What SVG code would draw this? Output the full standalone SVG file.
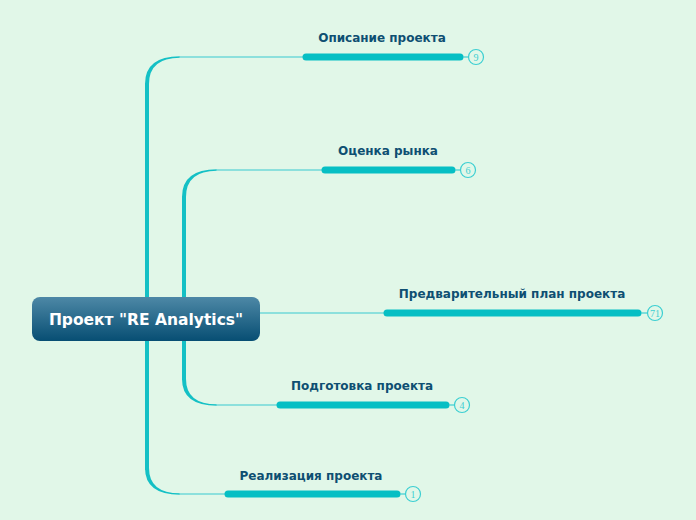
<svg xmlns="http://www.w3.org/2000/svg" width="696" height="520" viewBox="0 0 696 520">
<defs>
<linearGradient id="rootGrad" x1="0" y1="0" x2="0" y2="1">
<stop offset="0" stop-color="#4d88a6"/>
<stop offset="1" stop-color="#074e73"/>
</linearGradient>
<style>
.trunk{fill:#14c0c5;stroke:none}
.thin{fill:none;stroke:#6fd9d9;stroke-width:1.3}
.bar{stroke:#06bfc4;stroke-width:7;stroke-linecap:round}
.badge{fill:#e1f7e8;stroke:#3ccfd2;stroke-width:1.2}
.badge-t{font-family:"Liberation Serif",serif;font-size:10px;fill:#3ccfd2;text-anchor:middle}
.lbl{font-family:"DejaVu Sans",Verdana,sans-serif;font-weight:bold;font-size:12px;fill:#0e4f72;text-anchor:middle}
.root-t{font-family:"DejaVu Sans",Verdana,sans-serif;font-weight:bold;font-size:15.5px;fill:#ffffff;text-anchor:middle}
</style>
</defs>
<rect width="696" height="520" fill="#e1f7e8"/>
<g id="connectors">
<path class="trunk" d="M145,470 L145,84 Q145,56.3 180,56.3 L180,57.7 Q149,57.7 149,84 L149,470 Z"/>
<path class="trunk" d="M145,468 Q145,494.7 180,494.7 L180,493.3 Q149,493.3 149,468 Z"/>
<path class="trunk" d="M182,380 L182,197 Q182,169.3 217,169.3 L217,170.7 Q186,170.7 186,197 L186,380 Z"/>
<path class="trunk" d="M182,379 Q182,405.7 217,405.7 L217,404.3 Q186,404.3 186,379 Z"/>
<path class="thin" d="M179,57 H303"/>
<path class="thin" d="M216,170 H322"/>
<path class="thin" d="M260,313 H384"/>
<path class="thin" d="M216,405 H277"/>
<path class="thin" d="M179,494 H225"/>
</g>
<g id="root">
<rect x="32" y="297" width="228" height="44" rx="8" fill="url(#rootGrad)"/>
<text class="root-t" x="146" y="325">Проект "RE Analytics"</text>
</g>
<g id="node-opisanie">
<line class="bar" x1="306" y1="57" x2="460" y2="57"/>
<line x1="463" y1="57" x2="468" y2="57" stroke="#3ccfd2" stroke-width="1.2"/>
<circle class="badge" cx="476" cy="57" r="7.5"/>
<text class="badge-t" x="476" y="60.5">9</text>
<text class="lbl" x="382" y="42">Описание проекта</text>
</g>
<g id="node-ocenka">
<line class="bar" x1="325" y1="170" x2="452" y2="170"/>
<line x1="455" y1="170" x2="460" y2="170" stroke="#3ccfd2" stroke-width="1.2"/>
<circle class="badge" cx="468" cy="170" r="7.5"/>
<text class="badge-t" x="468" y="173.5">6</text>
<text class="lbl" x="388" y="155">Оценка рынка</text>
</g>
<g id="node-plan">
<line class="bar" x1="387" y1="313" x2="638" y2="313"/>
<line x1="641" y1="313" x2="647" y2="313" stroke="#3ccfd2" stroke-width="1.2"/>
<circle class="badge" cx="655" cy="313" r="7.5"/>
<text class="badge-t" x="655" y="316.5">71</text>
<text class="lbl" x="512" y="298">Предварительный план проекта</text>
</g>
<g id="node-podgotovka">
<line class="bar" x1="280" y1="405" x2="446" y2="405"/>
<line x1="449" y1="405" x2="454" y2="405" stroke="#3ccfd2" stroke-width="1.2"/>
<circle class="badge" cx="462" cy="405" r="7.5"/>
<text class="badge-t" x="462" y="408.5">4</text>
<text class="lbl" x="362" y="390">Подготовка проекта</text>
</g>
<g id="node-realizaciya">
<line class="bar" x1="228" y1="494" x2="397" y2="494"/>
<line x1="400" y1="494" x2="405" y2="494" stroke="#3ccfd2" stroke-width="1.2"/>
<circle class="badge" cx="413" cy="494" r="7.5"/>
<text class="badge-t" x="413" y="497.5">1</text>
<text class="lbl" x="311" y="480">Реализация проекта</text>
</g>
</svg>
